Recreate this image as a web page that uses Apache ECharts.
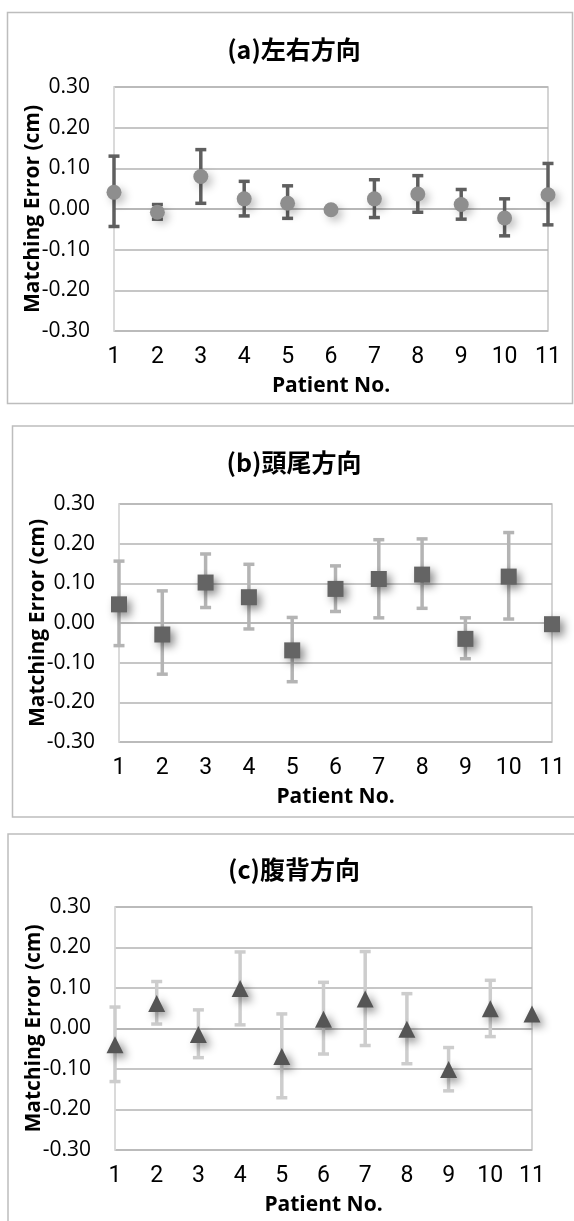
<!DOCTYPE html>
<html>
<head>
<meta charset="utf-8">
<script src="https://cdn.jsdelivr.net/npm/echarts@6/dist/echarts.min.js"></script>
<style>
  html, body { margin: 0; padding: 0; background: #fff; }
  #main { width: 574px; height: 1221px; }
</style>
</head>
<body>
<div id="main"></div>
<script>
// 患者番号
var patients = ['1', '2', '3', '4', '5', '6', '7', '8', '9', '10', '11'];

// (a) 左右方向
var lrMean = [0.041, -0.008, 0.080, 0.025, 0.014, -0.002, 0.025, 0.037, 0.011, -0.022, 0.035];
var lrLow  = [-0.043, -0.025, 0.014, -0.017, -0.023, null, -0.021, -0.008, -0.025, -0.066, -0.039];
var lrHigh = [0.130, 0.011, 0.146, 0.068, 0.057, null, 0.072, 0.082, 0.048, 0.025, 0.112];

// (b) 頭尾方向
var ccMean = [0.047, -0.029, 0.102, 0.065, -0.069, 0.086, 0.111, 0.122, -0.040, 0.117, -0.003];
var ccLow  = [-0.057, -0.129, 0.039, -0.015, -0.148, 0.029, 0.013, 0.037, -0.090, 0.010, null];
var ccHigh = [0.156, 0.081, 0.174, 0.148, 0.014, 0.144, 0.210, 0.212, 0.013, 0.228, null];

// (c) 腹背方向
var apMean = [-0.040, 0.062, -0.015, 0.099, -0.069, 0.023, 0.073, -0.002, -0.101, 0.049, 0.036];
var apLow  = [-0.131, 0.011, -0.072, 0.009, -0.171, -0.063, -0.042, -0.087, -0.154, -0.020, null];
var apHigh = [0.053, 0.116, 0.046, 0.189, 0.036, 0.114, 0.190, 0.086, -0.047, 0.119, null];

var myChart = echarts.init(document.getElementById('main'));

var tickFont = 'Liberation Sans Narrow, Roboto, sans-serif';
var numFont = 'Open Sans, Noto Sans, sans-serif';

function pairs(arr) {
  return arr.map(function (v, i) { return [i, v]; });
}

function bars(low, high) {
  var out = [];
  low.forEach(function (v, i) {
    if (v !== null && high[i] !== null) out.push([i, v, high[i]]);
  });
  return out;
}

function errorBar(color, capW) {
  return function (params, api) {
    var x = api.value(0);
    var top = api.coord([x, api.value(2)]);
    var bot = api.coord([x, api.value(1)]);
    var h = capW / 2;
    var st = { stroke: color, lineWidth: 3.5 };
    return {
      type: 'group',
      children: [
        { type: 'line', shape: { x1: top[0], y1: top[1], x2: bot[0], y2: bot[1] }, style: st },
        { type: 'line', shape: { x1: top[0] - h, y1: top[1], x2: top[0] + h, y2: top[1] }, style: st },
        { type: 'line', shape: { x1: bot[0] - h, y1: bot[1], x2: bot[0] + h, y2: bot[1] }, style: st }
      ]
    };
  };
}

var grids = [
  { left: 114, right: 26, top: 87, height: 244 },
  { left: 119, right: 22, top: 504, height: 238 },
  { left: 115, right: 42, top: 907, height: 243 }
];

var xAxes = [], yAxes = [];
grids.forEach(function (g, i) {
  g.show = true;
  g.borderColor = '#c6c6c6';
  g.borderWidth = 1.5;
  xAxes.push({
    gridIndex: i,
    type: 'category',
    boundaryGap: false,
    data: patients,
    name: 'Patient No.',
    nameLocation: 'middle',
    nameGap: 45,
    nameMoveOverlap: false,
    nameTextStyle: { fontFamily: numFont, fontWeight: 'bold', fontSize: 21, color: '#000' },
    axisTick: { show: false },
    axisLine: { lineStyle: { color: '#b3b3b3', width: 1.5 } },
    axisLabel: { color: '#000', fontFamily: tickFont, fontSize: 23, margin: 15 }
  });
  yAxes.push({
    gridIndex: i,
    type: 'value',
    min: -0.3,
    max: 0.3,
    interval: 0.1,
    name: 'Matching Error (cm)',
    nameLocation: 'middle',
    nameGap: 70,
    nameMoveOverlap: false,
    nameTextStyle: { fontFamily: numFont, fontWeight: 'bold', fontSize: 21, color: '#000' },
    axisTick: { show: false },
    axisLine: { show: true, lineStyle: { color: '#dcdcdc', width: 1.5 } },
    axisLabel: {
      color: '#000', fontFamily: numFont, fontSize: 21, margin: 24,
      formatter: function (v) { return Math.abs(v) < 1e-9 ? '0.00' : v.toFixed(2); }
    },
    splitLine: { show: true, lineStyle: { color: '#b3b3b3', width: 1.5 } }
  });
});

function panelSeries(idx, mean, low, high, symbol, size, fill, barColor, shadow) {
  return [
    {
      type: 'custom',
      xAxisIndex: idx, yAxisIndex: idx,
      renderItem: errorBar(barColor, 11),
      data: bars(low, high),
      z: 2
    },
    {
      type: 'scatter',
      xAxisIndex: idx, yAxisIndex: idx,
      symbol: symbol,
      symbolSize: size,
      data: pairs(mean),
      itemStyle: {
        color: fill, opacity: 1,
        shadowColor: shadow, shadowBlur: 8, shadowOffsetX: 4, shadowOffsetY: 4
      },
      z: 3
    }
  ];
}

var series = []
  .concat(panelSeries(0, lrMean, lrLow, lrHigh, 'circle', 15, '#8e8e8e', '#5f5f5f', 'rgba(0,0,0,0.25)'))
  .concat(panelSeries(1, ccMean, ccLow, ccHigh, 'rect', 16, '#646464', '#b4b4b4', 'rgba(0,0,0,0.45)'))
  .concat(panelSeries(2, apMean, apLow, apHigh, 'triangle', 17, '#555555', '#cdcdcd', 'rgba(0,0,0,0.45)'));

var titleStyle = { fontFamily: 'Noto Sans CJK JP', fontWeight: 'bold', fontSize: 25, color: '#000' };

myChart.setOption({
  animation: false,
  title: [
    { text: '(a)左右方向', left: 294, top: 37, textAlign: 'center', padding: 0, textStyle: titleStyle },
    { text: '(b)頭尾方向', left: 294, top: 450, textAlign: 'center', padding: 0, textStyle: titleStyle },
    { text: '(c)腹背方向', left: 294, top: 857, textAlign: 'center', padding: 0, textStyle: titleStyle }
  ],
  graphic: [
    { type: 'rect', shape: { x: 7.5, y: 12.5, width: 565, height: 391 }, style: { fill: null, stroke: '#bdbdbd', lineWidth: 1.5 } },
    { type: 'rect', shape: { x: 12.5, y: 426, width: 570, height: 391 }, style: { fill: null, stroke: '#bdbdbd', lineWidth: 1.5 } },
    { type: 'rect', shape: { x: 8, y: 834, width: 575, height: 400 }, style: { fill: null, stroke: '#bdbdbd', lineWidth: 1.5 } }
  ],
  grid: grids,
  xAxis: xAxes,
  yAxis: yAxes,
  series: series
});
</script>
</body>
</html>
